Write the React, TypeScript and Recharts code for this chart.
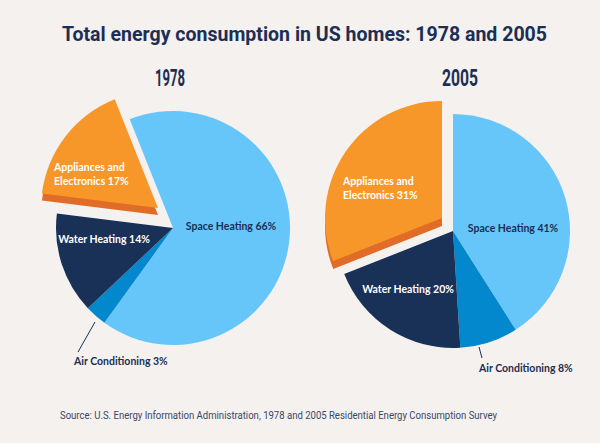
import { PieChart, Pie } from 'recharts';

// energy use by end use, share of total (%)
const CATEGORIES = ['Space Heating', 'Air Conditioning', 'Water Heating', 'Appliances and Electronics'];
const LABEL_LINES = [['Space Heating'], ['Air Conditioning'], ['Water Heating'], ['Appliances and', 'Electronics']];
const VALUES_1978 = [66, 3, 14, 17];
const VALUES_2005 = [41, 8, 20, 31];
const YEARS = ['1978', '2005'];
const TITLE = 'Total energy consumption in US homes: 1978 and 2005';
const SOURCE = 'Source: U.S. Energy Information Administration, 1978 and 2005 Residential Energy Consumption Survey';

const COLORS = ['#66c6f9', '#0388cd', '#1a3157', '#f7972a'];
const EDGE_COLOR = '#e06c28';
const NAVY = '#1b2f56';
const BG = '#f5f1ee';
const EXPLODED = 3; // appliances slice is pulled out

const W = 600;
const H = 443;
const RADIUS = 117;
const LABEL_FONT = 'Lato, "Open Sans", sans-serif';
const HEAD_FONT = 'Roboto, "Liberation Sans", sans-serif';

// per-chart layout: pie centre, first angle, explode offset, label offsets
const charts = [
  {
    values: VALUES_1978,
    cx: 173,
    cy: 228,
    startAngle: 111.7,
    explode: { dx: -15, dy: -20, depth: 7 },
    year: { x: 155, w: 30 },
    labels: [
      { dx: 58, dy: -2, anchor: 'middle', color: NAVY },
      { dx: -99, dy: 133, anchor: 'start', color: NAVY, leader: [-78, 94, -95, 124] },
      { dx: -69, dy: 11, anchor: 'middle', color: '#fff' },
      { dx: -104, dy: -34, anchor: 'start', color: '#fff' },
    ],
  },
  {
    values: VALUES_2005,
    cx: 453,
    cy: 231,
    startAngle: 90,
    explode: { dx: -11, dy: -13, depth: 8 },
    year: { x: 442, w: 36 },
    labels: [
      { dx: 60, dy: -3, anchor: 'middle', color: NAVY },
      { dx: 26, dy: 137, anchor: 'start', color: NAVY, leader: [26, 116, 29, 127] },
      { dx: -45, dy: 58, anchor: 'middle', color: '#fff' },
      { dx: -99, dy: -30, anchor: 'start', color: '#fff' },
    ],
  },
];

type Layout = (typeof charts)[number]['labels'][number];

const makeLabel = (layout: Layout[], values: number[], only: (i: number) => boolean) =>
  (props: any) => {
    const { cx, cy, index } = props;
    if (!only(index)) return null;
    const l = layout[index];
    const lines = LABEL_LINES[index].slice();
    lines[lines.length - 1] = `${lines[lines.length - 1]} ${values[index]}%`;
    const lineH = 14.5;
    const y0 = cy + l.dy - ((lines.length - 1) * lineH) / 2;
    return (
      <g key={`lbl-${index}`}>
        {l.leader && (
          <line
            x1={cx + l.leader[0]}
            y1={cy + l.leader[1]}
            x2={cx + l.leader[2]}
            y2={cy + l.leader[3]}
            stroke={NAVY}
            strokeWidth={1}
          />
        )}
        <text
          x={cx + l.dx}
          y={y0}
          textAnchor={l.anchor}
          dominantBaseline="central"
          fill={l.color}
          fontFamily={LABEL_FONT}
          fontWeight={700}
          fontSize={10.5}
        >
          {lines.map((t, k) => (
            <tspan key={k} x={cx + l.dx} y={y0 + k * lineH}>
              {t}
            </tspan>
          ))}
        </text>
      </g>
    );
  };

function pieSet(c: (typeof charts)[number], n: number) {
  const slices = (pick: (i: number) => string) =>
    CATEGORIES.map((name, i) => ({ name, value: c.values[i], fill: pick(i) }));
  const common = {
    dataKey: 'value',
    outerRadius: RADIUS,
    startAngle: c.startAngle,
    endAngle: c.startAngle - 360,
    stroke: 'none',
    isAnimationActive: false,
    labelLine: false,
  };
  return [
    <Pie
      key={`base-${n}`}
      {...common}
      data={slices((i) => (i === EXPLODED ? 'none' : COLORS[i]))}
      cx={c.cx}
      cy={c.cy}
      label={makeLabel(c.labels, c.values, (i) => i !== EXPLODED)}
    />,
    <Pie
      key={`edge-${n}`}
      {...common}
      data={slices((i) => (i === EXPLODED ? EDGE_COLOR : 'none'))}
      cx={c.cx + c.explode.dx}
      cy={c.cy + c.explode.dy + c.explode.depth}
    />,
    <Pie
      key={`face-${n}`}
      {...common}
      data={slices((i) => (i === EXPLODED ? COLORS[i] : 'none'))}
      cx={c.cx + c.explode.dx}
      cy={c.cy + c.explode.dy}
      label={makeLabel(c.labels, c.values, (i) => i === EXPLODED)}
    />,
  ];
}

export default function App() {
  return (
    <div
      style={{
        position: 'fixed',
        left: 0,
        top: 0,
        width: W,
        height: H,
        background: BG,
        overflow: 'hidden',
      }}
    >
      <div style={{ position: 'absolute', left: 0, top: 0 }}>
        <PieChart width={W} height={H} margin={{ top: 0, right: 0, bottom: 0, left: 0 }}>
          {charts.flatMap((c, n) => pieSet(c, n))}
        </PieChart>
      </div>
      <svg
        width={W}
        height={H}
        style={{ position: 'absolute', left: 0, top: 0, pointerEvents: 'none' }}
      >
        <text
          x={62}
          y={41}
          textLength={485}
          lengthAdjust="spacingAndGlyphs"
          fill={NAVY}
          fontFamily={HEAD_FONT}
          fontWeight={700}
          fontSize={20}
        >
          {TITLE}
        </text>
        {charts.map((c, i) => (
          <text
            key={YEARS[i]}
            x={c.year.x}
            y={86}
            textLength={c.year.w}
            lengthAdjust="spacingAndGlyphs"
            fill={NAVY}
            fontFamily={HEAD_FONT}
            fontWeight={700}
            fontSize={24}
          >
            {YEARS[i]}
          </text>
        ))}
        <text
          x={60}
          y={419}
          textLength={437}
          lengthAdjust="spacingAndGlyphs"
          fill="#3a4766"
          fontFamily={HEAD_FONT}
          fontSize={10}
        >
          {SOURCE}
        </text>
      </svg>
    </div>
  );
}
